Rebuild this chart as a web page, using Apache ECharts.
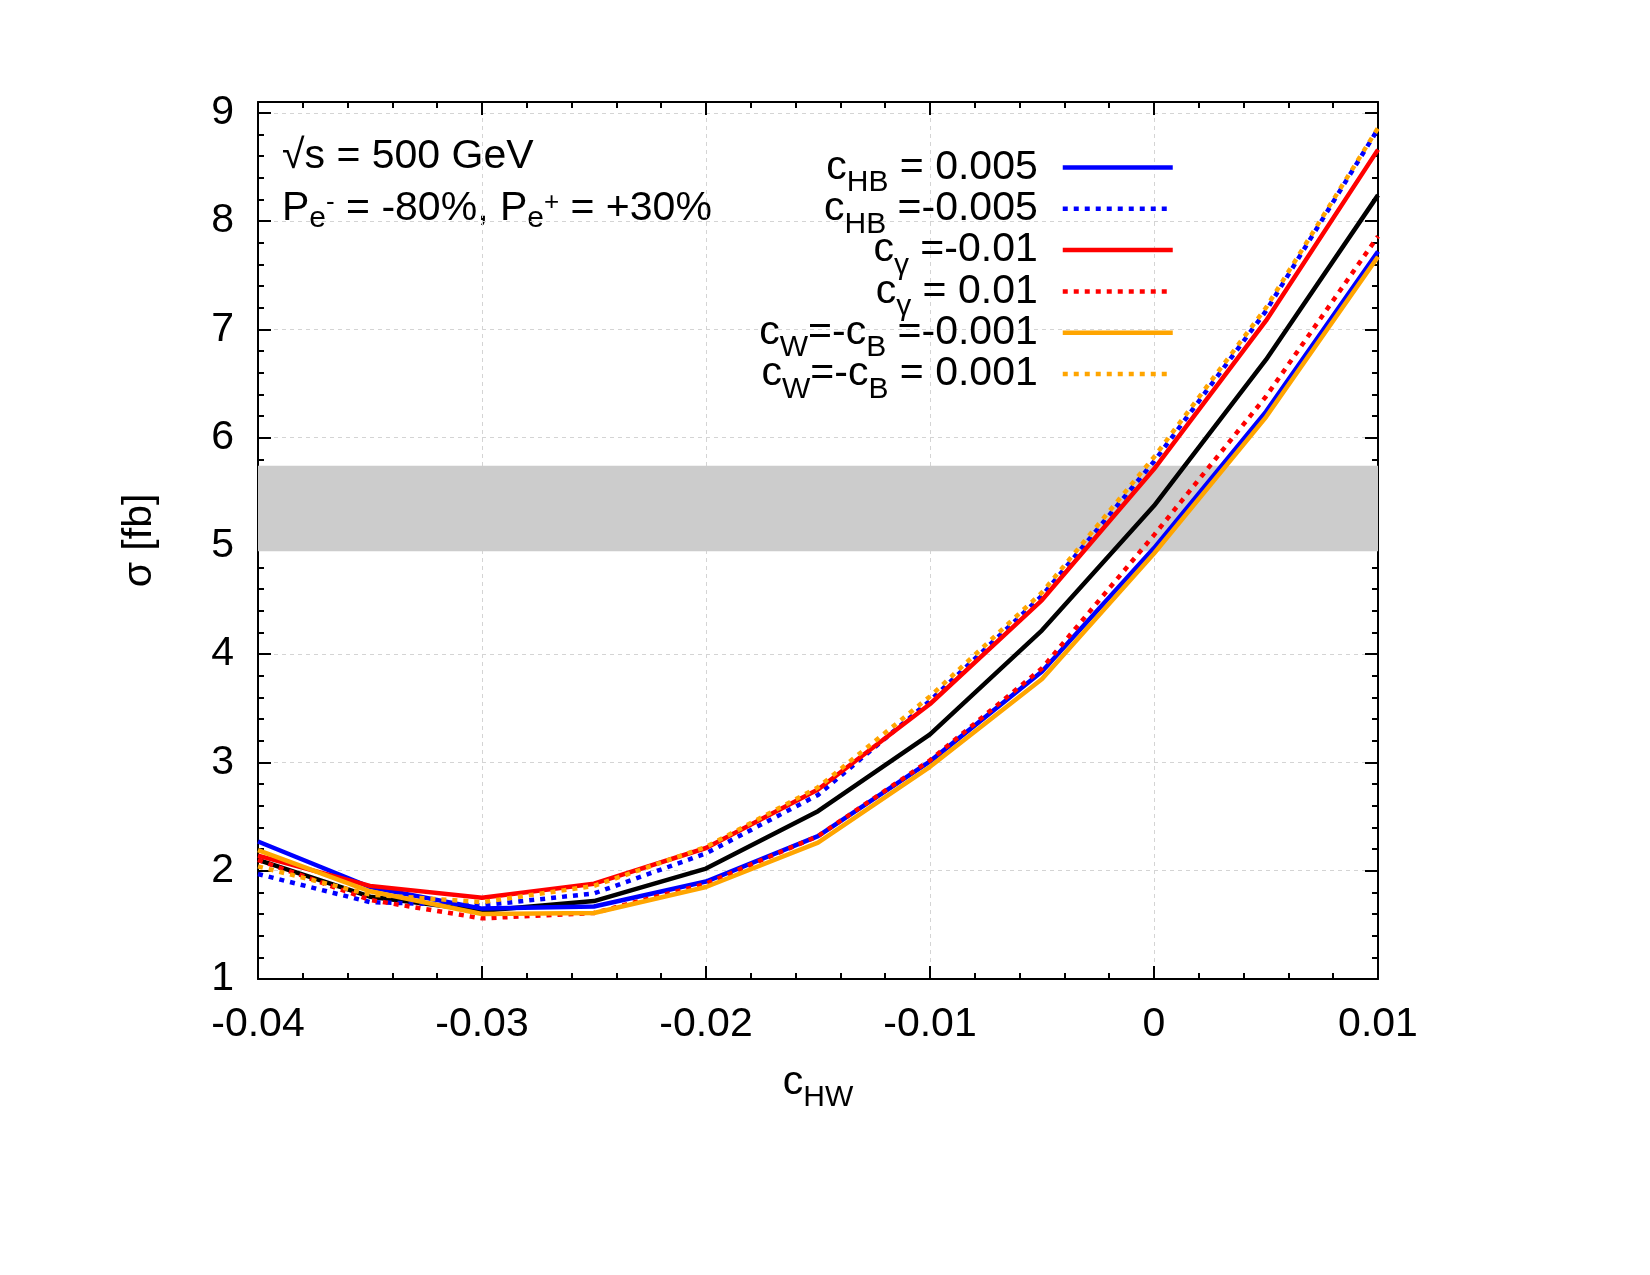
<!DOCTYPE html>
<html>
<head>
<meta charset="utf-8">
<title>sigma vs cHW</title>
<script src="https://cdn.jsdelivr.net/npm/echarts@6/dist/echarts.min.js"></script>
<style>
  html, body { margin: 0; padding: 0; background: #fff; }
  #chart { width: 1650px; height: 1275px; }
</style>
</head>
<body>
<div id="chart"></div>
<script>
// scan points in c_HW
const cHW = [-0.04, -0.035, -0.03, -0.025, -0.02, -0.015, -0.01, -0.005, 0, 0.005, 0.01];

// cross sections [fb]
const sigmaSM       = [2.10, 1.76, 1.63, 1.72, 2.02, 2.55, 3.26, 4.22, 5.37, 6.72, 8.24];
const sigmaHBplus   = [2.27, 1.85, 1.65, 1.67, 1.90, 2.32, 3.01, 3.84, 4.98, 6.24, 7.72];
const sigmaHBminus  = [1.97, 1.71, 1.68, 1.79, 2.16, 2.70, 3.57, 4.54, 5.78, 7.17, 8.85];
const sigmaGamMinus = [2.14, 1.86, 1.75, 1.88, 2.21, 2.75, 3.54, 4.50, 5.71, 7.08, 8.66];
const sigmaGamPlus  = [2.10, 1.73, 1.56, 1.61, 1.88, 2.32, 3.02, 3.87, 5.10, 6.38, 7.86];
const sigmaWBminus  = [2.19, 1.81, 1.60, 1.61, 1.85, 2.26, 2.96, 3.77, 4.93, 6.19, 7.67];
const sigmaWBplus   = [2.04, 1.78, 1.71, 1.86, 2.22, 2.77, 3.61, 4.57, 5.82, 7.20, 8.86];

// grey measurement band
const bandLow = 4.95;
const bandHigh = 5.74;

// legend entries (name, rich label)
const seriesNames = ['cHB = 0.005', 'cHB =-0.005', 'cγ =-0.01', 'cγ = 0.01', 'cW=-cB =-0.001', 'cW=-cB = 0.001'];
const legendLabels = [
  '{m|c}{s|HB}{m| = 0.005}',
  '{m|c}{s|HB}{m| =-0.005}',
  '{m|c}{s|γ}{m| =-0.01}',
  '{m|c}{s|γ}{m| = 0.01}',
  '{m|c}{s|W}{m|=-c}{s|B}{m| =-0.001}',
  '{m|c}{s|W}{m|=-c}{s|B}{m| = 0.001}'
];

const FONT = 'Liberation Sans';
const FS = 41;

// m: normal text, s: subscript, se: small subscript in the beam note, u: superscript
const rich = {
  m: { fontFamily: FONT, fontSize: FS, lineHeight: 43, color: '#000' },
  s: { fontFamily: FONT, fontSize: 30, lineHeight: 9, verticalAlign: 'top', padding: [22, 0, 0, 0], color: '#000' },
  se: { fontFamily: FONT, fontSize: 30, lineHeight: 9, verticalAlign: 'top', padding: [17, 0, 0, 0], color: '#000' },
  u: { fontFamily: FONT, fontSize: 26, lineHeight: 9, verticalAlign: 'top', padding: [3, 0, 0, 0], color: '#000' }
};

const chart = echarts.init(document.getElementById('chart'));

function curve(name, values, color, dotted) {
  return {
    name: name,
    type: 'line',
    data: cHW.map((x, i) => [x, values[i]]),
    symbol: 'none',
    z: 3,
    lineStyle: { color: color, width: 4.5, type: dotted ? [5, 6] : 'solid', cap: 'butt' },
    itemStyle: { color: color }
  };
}

// mirrored border axes (gnuplot style ticks on all four sides)
const tickStyle = { show: true, inside: true, length: 13, lineStyle: { color: '#000', width: 2 } };
const minorStyle = { show: true, splitNumber: 5, length: 6, lineStyle: { color: '#000', width: 2 } };
const axisLine = { show: true, onZero: false, lineStyle: { color: '#000', width: 2 } };
const gridLine = { show: true, lineStyle: { color: '#d4d4d4', width: 1, type: [4, 4] } };

chart.setOption({
  animation: false,
  backgroundColor: '#fff',
  grid: { left: 258, right: 272, top: 102, bottom: 296 },
  xAxis: [
    {
      type: 'value', min: -0.04, max: 0.01, interval: 0.01,
      axisLine: axisLine, axisTick: tickStyle, minorTick: minorStyle,
      splitLine: gridLine,
      axisLabel: {
        margin: 25, fontFamily: FONT, fontSize: FS, color: '#000',
        formatter: v => Math.abs(v) < 1e-9 ? '0' : String(+v.toFixed(3))
      },
      name: '{m|c}{s|HW}', nameLocation: 'middle', nameGap: 82,
      nameTextStyle: { rich: rich }
    },
    {
      type: 'value', position: 'top', min: -0.04, max: 0.01, interval: 0.01,
      axisLine: axisLine, axisTick: tickStyle, minorTick: minorStyle,
      splitLine: { show: false }, axisLabel: { show: false }
    }
  ],
  yAxis: [
    {
      type: 'value', min: 1, max: 9.1, interval: 1,
      axisLine: axisLine, axisTick: tickStyle, minorTick: minorStyle,
      splitLine: gridLine,
      axisLabel: {
        margin: 24, fontFamily: FONT, fontSize: FS, color: '#000',
        formatter: v => v > 9.05 ? '' : String(v)
      },
      name: 'σ [fb]', nameLocation: 'middle', nameGap: 98,
      nameTextStyle: { fontFamily: FONT, fontSize: FS, color: '#000' }
    },
    {
      type: 'value', position: 'right', min: 1, max: 9.1, interval: 1,
      axisLine: axisLine, axisTick: tickStyle, minorTick: minorStyle,
      splitLine: { show: false }, axisLabel: { show: false }
    }
  ],
  legend: {
    data: seriesNames,
    orient: 'vertical',
    align: 'right',
    right: 475,
    top: 146,
    padding: 0,
    itemGap: -10.7,
    itemWidth: 110,
    itemHeight: 10,
    itemStyle: { opacity: 0 },
    lineStyle: { width: 4.5 },
    selectedMode: false,
    textStyle: { padding: [0, 20, 0, 0], rich: rich },
    formatter: name => legendLabels[seriesNames.indexOf(name)]
  },
  graphic: [
    {
      type: 'text', left: 282, top: 136,
      style: { text: '{m|√s = 500 GeV}', rich: rich }
    },
    {
      type: 'text', left: 282, top: 187,
      style: { text: '{m|P}{se|e}{u|-}{m| = -80%, P}{se|e}{u|+}{m| = +30%}', rich: rich }
    }
  ],
  series: [
    {
      name: 'band', type: 'line', data: [], z: 1, silent: true,
      markArea: {
        silent: true,
        itemStyle: { color: '#cccccc', borderWidth: 0 },
        data: [[{ yAxis: bandLow }, { yAxis: bandHigh }]]
      }
    },
    curve('SM', sigmaSM, '#000000', false),
    curve(seriesNames[0], sigmaHBplus, '#0000ff', false),
    curve(seriesNames[1], sigmaHBminus, '#0000ff', true),
    curve(seriesNames[2], sigmaGamMinus, '#ff0000', false),
    curve(seriesNames[3], sigmaGamPlus, '#ff0000', true),
    curve(seriesNames[4], sigmaWBminus, '#ffa500', false),
    curve(seriesNames[5], sigmaWBplus, '#ffa500', true)
  ]
});
</script>
</body>
</html>
